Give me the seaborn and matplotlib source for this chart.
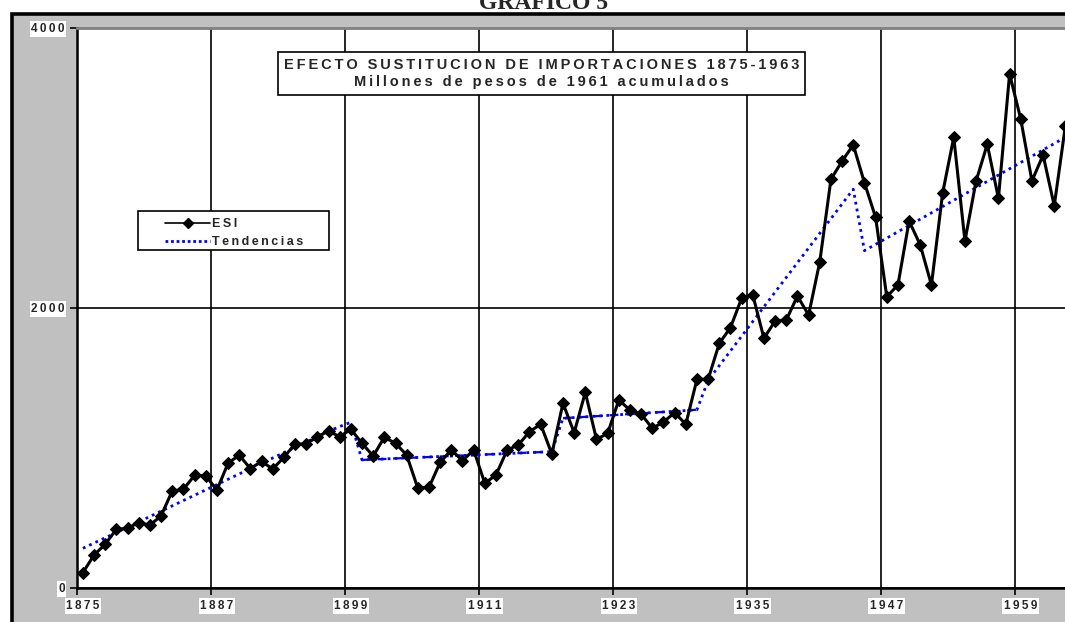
import numpy as np
import pandas as pd
import matplotlib
matplotlib.use('Agg')
import matplotlib.pyplot as plt
from matplotlib.patches import Rectangle
from matplotlib.lines import Line2D
import seaborn as sns

# Years 1875-1963
years = list(range(1875, 1964))

# ESI, millones de pesos de 1961 acumulados
esi = [106, 232, 309, 416, 423, 463, 446, 511, 689, 701,
       801, 799, 696, 887, 946, 849, 901, 846, 930, 1025,
       1025, 1077, 1118, 1077, 1130, 1030, 939, 1073, 1030, 946,
       709, 716, 894, 982, 906, 982, 744, 804, 982, 1018,
       1113, 1166, 954, 1316, 1106, 1394, 1058, 1101, 1339, 1268,
       1239, 1137, 1182, 1249, 1166, 1487, 1487, 1744, 1856, 2066,
       2089, 1780, 1904, 1911, 2082, 1946, 2327, 2916, 3046, 3161,
       2891, 2644, 2077, 2161, 2618, 2446, 2161, 2816, 3216, 2475,
       2904, 3166, 2780, 3668, 3346, 2904, 3089, 2727, 3299]

# Tendencias by sub-period
trend_a = [280, 318, 355, 393, 431, 469, 507, 545, 583, 621,
           659, 697, 735, 773, 811, 849, 887, 925, 963, 1001,
           1039, 1077, 1115, 1150, 1180]                      # 1875-1899
trend_b = [911, 915, 918, 922, 925, 929, 932, 936, 939, 943,
           946, 950, 953, 957, 960, 964, 967, 970]            # 1900-1917
trend_c = [1209, 1214, 1219, 1224, 1229, 1234, 1239, 1244, 1249,
           1254, 1259, 1264, 1270]                            # 1918-1930
trend_d = [1480, 1585, 1690, 1795, 1900, 2005, 2110, 2215, 2320,
           2425, 2530, 2635, 2740, 2845]                      # 1931-1944
trend_e = [2406, 2451, 2496, 2541, 2586, 2631, 2676, 2721, 2766,
           2811, 2856, 2901, 2946, 2991, 3036, 3081, 3126, 3171, 3216]  # 1945-1963

year_labels = ['1875', '1887', '1899', '1911', '1923', '1935', '1947', '1959']
y_ticks = [0, 2000, 4000]

trend = trend_a + trend_b + trend_c + trend_d + trend_e
df = pd.DataFrame({'idx': np.arange(len(years)), 'year': years,
                   'esi': esi, 'trend': trend})

def spaced(s):
    return '\u2009'.join(s)

sns.set_style('white')
plt.rcParams['font.family'] = ['Liberation Sans', 'DejaVu Sans']

fig = plt.figure(figsize=(10.65, 6.22), dpi=100)
fig.patch.set_facecolor('white')

# gray chart area with thick black frame
fig.patches.append(Rectangle((11.5 / 1065, -0.1), 1.1, 1.1 - 13.5 / 622,
                             transform=fig.transFigure, facecolor='#c0c0c0',
                             edgecolor='black', linewidth=2.6, zorder=-5))
fig.text(0.51, 1 - 9 / 622, 'GRAFICO 5', ha='center', va='baseline',
         fontsize=17, fontweight='bold', family='Liberation Serif')

ax = fig.add_axes([77.3 / 1065, 1 - 587.5 / 622, 993.7 / 1065, 560 / 622])
ax.set_facecolor('white')

# trend: dotted everywhere, dashed on the flat stretches
sns.lineplot(data=df, x='idx', y='trend', ax=ax, color='#0000ff',
             linestyle=(0, (1, 1.5)), linewidth=2, zorder=3)
b0 = len(trend_a)
b1 = b0 + len(trend_b)
c1 = b1 + len(trend_c)
sns.lineplot(data=df.iloc[b0:b1], x='idx', y='trend', ax=ax, color='#0000ff',
             linestyle=(0, (4, 3)), linewidth=1.6, zorder=3)
sns.lineplot(data=df.iloc[b1:c1], x='idx', y='trend', ax=ax, color='#0000ff',
             linestyle=(0, (4, 3)), linewidth=1.6, zorder=3)

sns.lineplot(data=df, x='idx', y='esi', ax=ax, color='black', linewidth=2.2,
             marker='D', markersize=6, markeredgecolor='black', zorder=4)

ax.set_xlim(-0.5, len(years) - 0.5)
ax.set_ylim(0, 4000)
ax.set_xlabel('')
ax.set_ylabel('')

# category axis: gridlines/ticks on boundaries, labels on centres
label_pos = [years.index(int(y)) for y in year_labels]
ax.set_xticks(label_pos)
ax.set_xticklabels([spaced(t) for t in year_labels])
ax.set_xticks([p - 0.5 for p in label_pos], minor=True)
ax.tick_params(axis='x', which='major', length=0, pad=9)
ax.tick_params(axis='x', which='minor', length=5, width=1.2, color='black',
               direction='out', bottom=True)
ax.grid(axis='x', which='minor', color='black', linewidth=1.2)
ax.set_yticks(y_ticks)
ax.set_yticklabels([spaced(str(t)) for t in y_ticks])
ax.tick_params(axis='y', length=5, width=1.2, color='black', direction='out',
               left=True, pad=4)
ax.grid(axis='y', which='major', color='black', linewidth=1.2)
ax.set_axisbelow(True)

for lbl in ax.get_xticklabels() + ax.get_yticklabels():
    lbl.set_fontsize(8.5)
    lbl.set_fontweight('bold')
    lbl.set_bbox(dict(facecolor='white', edgecolor='none', pad=1.2))

for side in ['left', 'bottom']:
    ax.spines[side].set_color('black')
    ax.spines[side].set_linewidth(1.8)
ax.spines['top'].set_color('#808080')
ax.spines['top'].set_linewidth(2)
ax.spines['right'].set_visible(False)

# title box
ax.text(0.467, 0.918,
        spaced('EFECTO SUSTITUCION DE IMPORTACIONES 1875-1963') + '\n' +
        spaced('Millones de pesos de 1961 acumulados'),
        transform=ax.transAxes, ha='center', va='center', fontsize=10.5,
        fontweight='bold', linespacing=1.3, zorder=6,
        bbox=dict(boxstyle='square,pad=0.4', facecolor='white',
                  edgecolor='black', linewidth=1.2))

# legend: box drawn separately (wide side padding like the original)
ax.add_patch(Rectangle((0.0611, 0.6027), 0.1922, 0.0696, transform=ax.transAxes,
                       facecolor='white', edgecolor='black', linewidth=1.2,
                       zorder=6))
handles = [Line2D([], [], color='black', linewidth=1.2, marker='D', markersize=5),
           Line2D([], [], color='#0000ff', linewidth=2, linestyle=(0, (1, 1)))]
leg = ax.legend(handles, [spaced('ESI'), spaced('Tendencias')],
                loc='upper left', bbox_to_anchor=(0.0883, 0.659),
                borderaxespad=0, frameon=False, handlelength=3.6,
                handletextpad=0.15, labelspacing=0.45, borderpad=0,
                prop={'size': 9, 'weight': 'bold'})
leg.set_zorder(7)

fig.savefig('out.png', dpi=100, facecolor=fig.get_facecolor())
